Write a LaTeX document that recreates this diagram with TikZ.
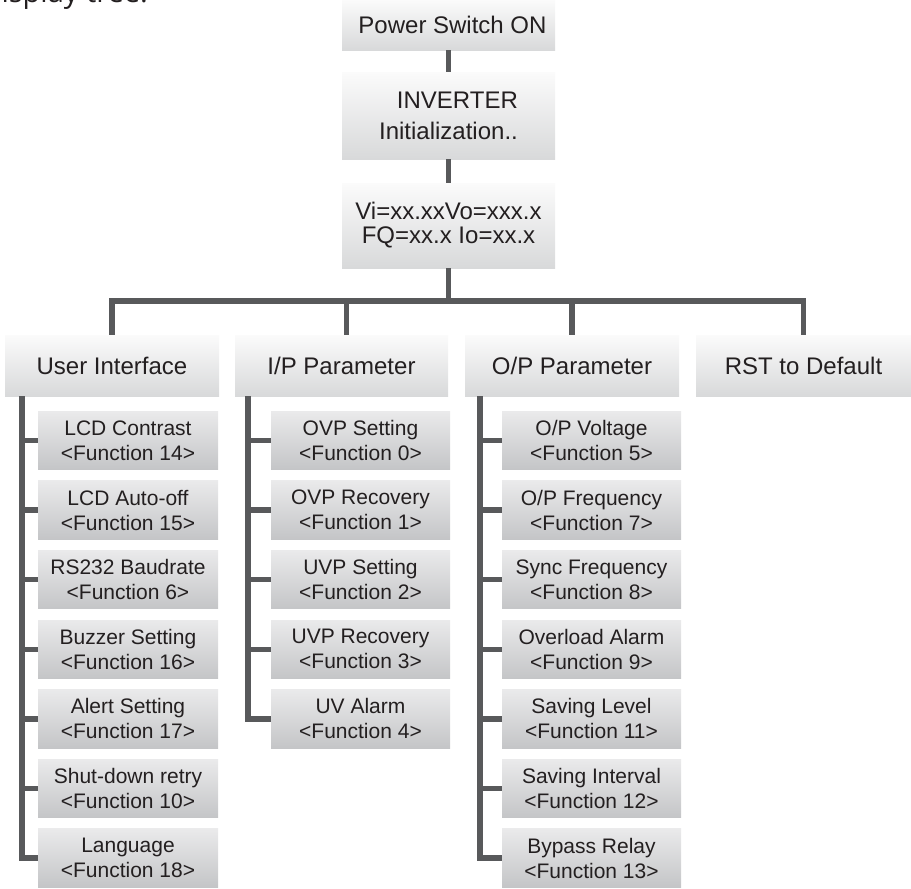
\documentclass[tikz,border=0pt]{standalone}
\usepackage{fontspec}
\setmainfont{Liberation Sans}
\newfontfamily\capfont{Open Sans}
\definecolor{txtc}{HTML}{231F20}
\definecolor{linec}{HTML}{58595B}
\definecolor{boxtop}{HTML}{FBFBFB}
\definecolor{boxbot}{HTML}{D8D9DA}
\definecolor{leaftop}{HTML}{EAEAEB}
\definecolor{leafbot}{HTML}{C4C5C7}
\begin{document}
\begin{tikzpicture}[x=1pt,y=-1pt,
  every node/.style={inner sep=0pt,text=txtc},
  headbox/.style={minimum width=213pt,top color=boxtop,bottom color=boxbot,draw=none,
    align=center,font=\fontsize{24}{31}\selectfont},
  catbox/.style={minimum width=214pt,minimum height=61pt,top color=boxtop,bottom color=boxbot,
    draw=none,font=\fontsize{24}{28}\selectfont},
  leafbox/.style={minimum width=180pt,minimum height=58.5pt,top color=leaftop,bottom color=leafbot,
    draw=none,align=center,font=\fontsize{21}{25}\selectfont},
  conn/.style={draw=linec,line width=5.5pt,line join=miter}
]
\useasboundingbox (0,0) rectangle (911,889);
\clip (0,0) rectangle (911,889);

% cut-off caption at the top edge
\node[anchor=base east,font=\capfont\fontsize{29}{32}\selectfont] (cap) at (148,2.5) {display tree:};

% main chain
\node[headbox,minimum height=50pt] (pw) at (448.5,25) {\hspace*{8pt}Power Switch ON};
\node[headbox,minimum height=87pt,align=right,font=\fontsize{24}{31}\selectfont] (inv) at (448.5,115.5) {INVERTER\\Initialization..};
\node[headbox,minimum height=85pt,font=\fontsize{24}{24}\selectfont] (vi) at (448.5,225.5) {Vi=xx.xxVo=xxx.x\\FQ=xx.x Io=xx.x};

% categories
\node[catbox] (ui) at (112,365.5) {User Interface};
\node[catbox,minimum width=213pt] (ip) at (341.5,365.5) {I/P Parameter};
\node[catbox] (op) at (572,365.5) {O/P Parameter};
\node[catbox,minimum width=215pt] (rst) at (803.5,365.5) {RST to Default};

% connectors of the main chain
\coordinate (bar) at (0,301);
\draw[conn] (pw.south) -- (inv.north);
\draw[conn] (inv.south) -- (vi.north);
\draw[conn] (vi.south) -- (vi.south |- bar);
\draw[conn] (ui.north) |- (rst.north |- bar) -- (rst.north);
\draw[conn] ([xshift=5pt]ip.north) -- ([xshift=5pt]ip.north |- bar);
\draw[conn] (op.north) -- (op.north |- bar);

% leaves
\foreach \t/\f [count=\i from 0] in {{LCD Contrast}/14,{LCD Auto-off}/15,{RS232 Baudrate}/6,{Buzzer Setting}/16,{Alert Setting}/17,{Shut-down retry}/10,{Language}/18}
  \node[leafbox] (ui\i) at (128,440.5+69.6*\i) {\t\\<Function \f>};
\foreach \t/\f [count=\i from 0] in {{OVP Setting}/0,{OVP Recovery}/1,{UVP Setting}/2,{UVP Recovery}/3,{UV Alarm}/4}
  \node[leafbox,minimum width=179pt] (ip\i) at (360.5,440.5+69.6*\i) {\t\\<Function \f>};
\foreach \t/\f [count=\i from 0] in {{O/P Voltage}/5,{O/P Frequency}/7,{Sync Frequency}/8,{Overload Alarm}/9,{Saving Level}/11,{Saving Interval}/12,{Bypass Relay}/13}
  \node[leafbox,minimum width=179pt] (op\i) at (591.5,440.5+69.6*\i) {\t\\<Function \f>};

% spines
\coordinate (uisp) at ([xshift=17pt]ui.south west);
\coordinate (ipsp) at ([xshift=13pt]ip.south west);
\coordinate (opsp) at ([xshift=15pt]op.south west);
\draw[conn] (uisp) |- (ui6.west);
\draw[conn] (ipsp) |- (ip4.west);
\draw[conn] (opsp) |- (op6.west);
\foreach \i in {0,...,5} \draw[conn] (ui\i.west) -- (ui\i.west -| uisp);
\foreach \i in {0,...,3} \draw[conn] (ip\i.west) -- (ip\i.west -| ipsp);
\foreach \i in {0,...,5} \draw[conn] (op\i.west) -- (op\i.west -| opsp);
\end{tikzpicture}
\end{document}
